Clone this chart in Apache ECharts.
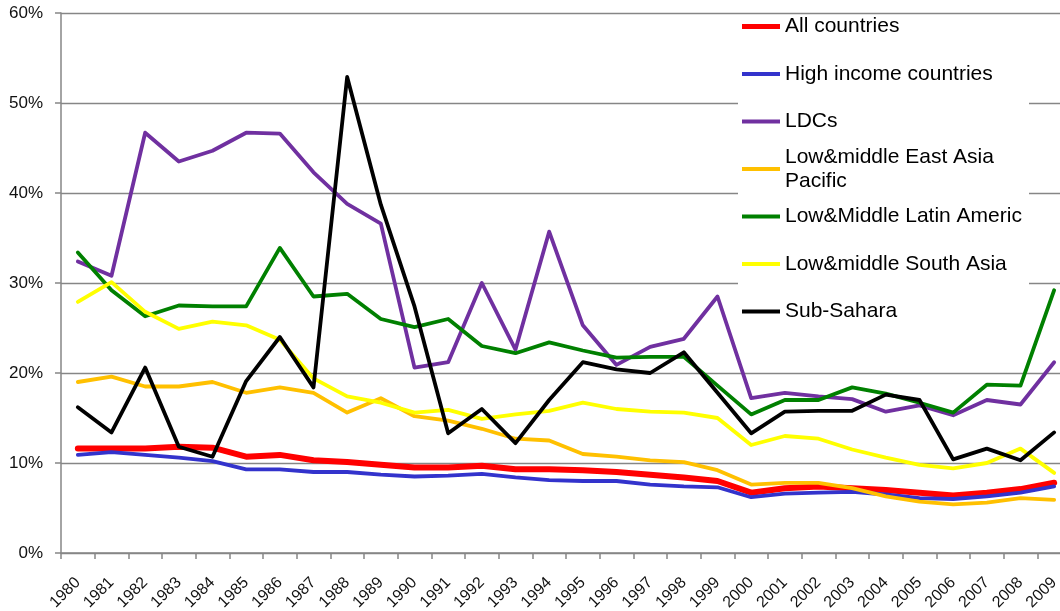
<!DOCTYPE html>
<html>
<head>
    <meta charset="utf-8">
    <title>Chart</title>
    <script src="https://cdn.jsdelivr.net/npm/echarts@6/dist/echarts.min.js"></script>
    <style>
        html, body { margin: 0; padding: 0; background: #fff; }
        #container { width: 1060px; height: 611px; }
    </style>
</head>
<body>
<div id="container"></div>
<script type="text/javascript">

    // years on the x axis
    var years = ['1980','1981','1982','1983','1984','1985','1986','1987','1988','1989',
                 '1990','1991','1992','1993','1994','1995','1996','1997','1998','1999',
                 '2000','2001','2002','2003','2004','2005','2006','2007','2008','2009'];

    // series names (legend text)
    var names = ['All countries', 'High income countries', 'LDCs', 'Low&middle East Asia Pacific',
                 'Low&Middle Latin Americ', 'Low&middle South Asia', 'Sub-Sahara'];

    // values in percent
    var allCountries = [11.6,11.6,11.6,11.8,11.7,10.7,10.9,10.3,10.1,9.8,9.5,9.5,9.7,9.3,9.3,9.2,9.0,8.7,8.4,8.0,6.7,7.2,7.4,7.2,7.0,6.7,6.4,6.7,7.1,7.8];
    var highIncome = [10.9,11.2,10.9,10.6,10.2,9.3,9.3,9.0,9.0,8.7,8.5,8.6,8.8,8.4,8.1,8.0,8.0,7.6,7.4,7.3,6.2,6.6,6.7,6.8,6.5,6.1,6.0,6.3,6.7,7.4];
    var ldcs = [32.4,30.8,46.7,43.5,44.7,46.7,46.6,42.3,38.8,36.6,20.6,21.2,30.0,22.6,35.7,25.3,20.9,22.9,23.8,28.5,17.2,17.8,17.4,17.1,15.7,16.4,15.3,17.0,16.5,21.2];
    var eastAsia = [19.0,19.6,18.5,18.5,19.0,17.8,18.4,17.8,15.6,17.2,15.2,14.7,13.8,12.7,12.5,11.0,10.7,10.3,10.1,9.2,7.6,7.8,7.8,7.2,6.3,5.7,5.4,5.6,6.1,5.9];
    var latinAmerica = [33.4,29.2,26.3,27.5,27.4,27.4,33.9,28.5,28.8,26.0,25.1,26.0,23.0,22.2,23.4,22.5,21.7,21.8,21.8,18.6,15.4,17.0,17.0,18.4,17.7,16.7,15.6,18.7,18.6,29.2];
    var southAsia = [27.9,30.1,26.8,24.9,25.7,25.3,23.7,19.4,17.4,16.7,15.6,15.9,14.9,15.4,15.8,16.7,16.0,15.7,15.6,15.0,12.0,13.0,12.7,11.5,10.6,9.8,9.4,10.0,11.6,8.9];
    var subSahara = [16.2,13.4,20.6,11.8,10.7,19.1,24.0,18.4,52.9,38.7,27.4,13.3,16.0,12.2,17.0,21.2,20.4,20.0,22.3,17.8,13.3,15.7,15.8,15.8,17.6,17.0,10.4,11.6,10.3,13.4];

    var seriesData = [allCountries, highIncome, ldcs, eastAsia, latinAmerica, southAsia, subSahara];
    var colors = ['#FF0000', '#3333CC', '#7030A0', '#FFC000', '#008000', '#FFFF00', '#000000'];
    var widths = [6, 3.8, 3.8, 3.8, 3.8, 3.8, 3.8];

    var myChart = echarts.init(document.getElementById('container'));

    var fontName = '"Liberation Sans", Arial, sans-serif';

    // one legend per entry so the wrapped one keeps the same spacing
    var legends = names.map(function (n, i) {
        var center = 26.5 + 47.5 * i;
        var lg = {
            data: [n],
            orient: 'vertical',
            left: 742,
            top: center - 12,
            padding: 0,
            icon: 'rect',
            itemWidth: 38,
            itemHeight: i === 0 ? 5 : 4,
            z: 20,
            selectedMode: false,
            textStyle: {
                fontFamily: fontName,
                fontSize: 21,
                color: '#000',
                lineHeight: 24
            }
        };
        if (i === 3) {
            lg.formatter = function () { return 'Low&middle East Asia\nPacific'; };
            lg.textStyle.padding = [24, 0, 0, 0];
            lg.top = center - 36;
        }
        return lg;
    });

    var option = {
        animation: false,
        color: colors,
        grid: {
            left: 61,
            top: 13,
            right: -11,
            height: 540,
            containLabel: false,
            outerBoundsMode: 'none'
        },
        graphic: [{
            type: 'rect',
            left: 738,
            top: 15,
            shape: { width: 291, height: 322 },
            style: { fill: '#ffffff' },
            z: 10
        }],
        legend: legends,
        xAxis: {
            type: 'category',
            data: years,
            boundaryGap: true,
            axisLine: { lineStyle: { color: '#868686', width: 1.5 } },
            axisTick: { show: true, interval: 0, length: 6, lineStyle: { color: '#868686', width: 1.5 } },
            axisLabel: {
                interval: 0,
                rotate: 45,
                margin: 27,
                fontFamily: fontName,
                fontSize: 16,
                color: '#111'
            },
            splitLine: { show: false }
        },
        yAxis: {
            type: 'value',
            min: 0,
            max: 60,
            interval: 10,
            axisLine: { show: true, lineStyle: { color: '#868686', width: 1.5 } },
            axisTick: { show: true, length: 6, lineStyle: { color: '#868686', width: 1.5 } },
            axisLabel: {
                formatter: '{value}%',
                margin: 18,
                fontFamily: fontName,
                fontSize: 17,
                color: '#111'
            },
            splitLine: { lineStyle: { color: '#868686', width: 1.3 } }
        },
        series: names.map(function (n, i) {
            return {
                name: n,
                type: 'line',
                data: seriesData[i],
                symbol: 'none',
                z: 2 + i * 0.01,
                lineStyle: { color: colors[i], width: widths[i], join: 'round', cap: 'round' },
                itemStyle: { color: colors[i] }
            };
        })
    };

    myChart.setOption(option);

</script>
</body>
</html>
